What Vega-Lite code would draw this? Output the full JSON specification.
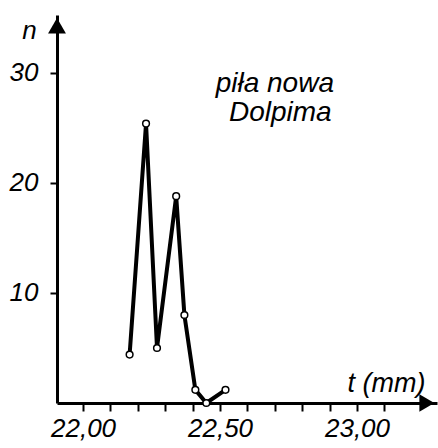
{
  "$schema": "https://vega.github.io/schema/vega-lite/v6.json",
  "width": 380,
  "height": 388,
  "autosize": {"type": "none"},
  "padding": {"left": 57, "top": 15, "right": 1, "bottom": 45},
  "background": "white",
  "config": {"view": {"stroke": null}, "font": "Liberation Sans"},
  "datasets": {
    "pts": [
      {"t": 22.17, "n": 4.4},
      {"t": 22.23, "n": 25.4},
      {"t": 22.27, "n": 5.0},
      {"t": 22.34, "n": 18.8},
      {"t": 22.37, "n": 8.0},
      {"t": 22.41, "n": 1.2},
      {"t": 22.45, "n": 0.0},
      {"t": 22.52, "n": 1.2}
    ],
    "arrowY": [{"t": 21.905, "n": 34.3}],
    "arrowX": [{"t": 23.255, "n": 0.0}],
    "notes": [
      {"t": 22.70, "n": 29.0, "label": "piła nowa"},
      {"t": 22.72, "n": 26.4, "label": "Dolpima"}
    ]
  },
  "encoding": {
    "x": {
      "field": "t", "type": "quantitative",
      "scale": {"domain": [21.905, 23.292], "nice": false, "zero": false},
      "axis": {
        "title": "t (mm)",
        "titleFont": "Liberation Sans",
        "titleFontStyle": "italic",
        "titleFontWeight": "normal",
        "titleFontSize": 27,
        "titleAngle": 0,
        "titleAlign": "center",
        "titleBaseline": "middle",
        "titleX": 329,
        "titleY": -20,
        "values": [22.0, 22.1, 22.2, 22.3, 22.4, 22.5, 22.6, 22.7, 22.8, 22.9, 23.0, 23.1],
        "labelExpr": "abs(datum.value*2 - round(datum.value*2)) < 0.001 ? replace(format(datum.value, '.2f'), '.', ',') : ''",
        "labelFont": "Liberation Sans",
        "labelFontStyle": "italic",
        "labelFontSize": 26,
        "labelColor": "black",
        "labelPadding": 4,
        "labelOverlap": false,
        "labelFlush": false,
        "domainColor": "black",
        "domainWidth": 3,
        "tickColor": "black",
        "tickWidth": 2,
        "tickSize": 8,
        "grid": false
      }
    },
    "y": {
      "field": "n", "type": "quantitative",
      "scale": {"domain": [0, 35.27], "nice": false, "zero": false},
      "axis": {
        "title": "n",
        "titleFont": "Liberation Sans",
        "titleFontStyle": "italic",
        "titleFontWeight": "normal",
        "titleFontSize": 26,
        "titleAngle": 0,
        "titleAlign": "center",
        "titleBaseline": "middle",
        "titleX": -28,
        "titleY": 15,
        "values": [10, 20, 30],
        "labelFont": "Liberation Sans",
        "labelFontStyle": "italic",
        "labelFontSize": 26,
        "labelColor": "black",
        "labelPadding": 12,
        "domainColor": "black",
        "domainWidth": 3,
        "tickColor": "black",
        "tickWidth": 2,
        "tickSize": 7,
        "grid": false
      }
    }
  },
  "layer": [
    {
      "data": {"name": "pts"},
      "mark": {"type": "line", "color": "black", "strokeWidth": 4, "clip": false},
      "encoding": {}
    },
    {
      "data": {"name": "pts"},
      "mark": {"type": "point", "filled": true, "fill": "white", "stroke": "black", "strokeWidth": 1.5, "size": 45, "opacity": 1, "clip": false}
    },
    {
      "data": {"name": "arrowY"},
      "mark": {"type": "point", "shape": "triangle-up", "filled": true, "color": "black", "size": 320, "opacity": 1, "clip": false}
    },
    {
      "data": {"name": "arrowX"},
      "mark": {"type": "point", "shape": "triangle-right", "filled": true, "color": "black", "size": 300, "opacity": 1, "clip": false}
    },
    {
      "data": {"name": "notes"},
      "mark": {"type": "text", "font": "Liberation Sans", "fontStyle": "italic", "fontSize": 28, "color": "black", "align": "center", "baseline": "middle", "clip": false},
      "encoding": {
        "text": {"field": "label"}
      }
    }
  ]
}
